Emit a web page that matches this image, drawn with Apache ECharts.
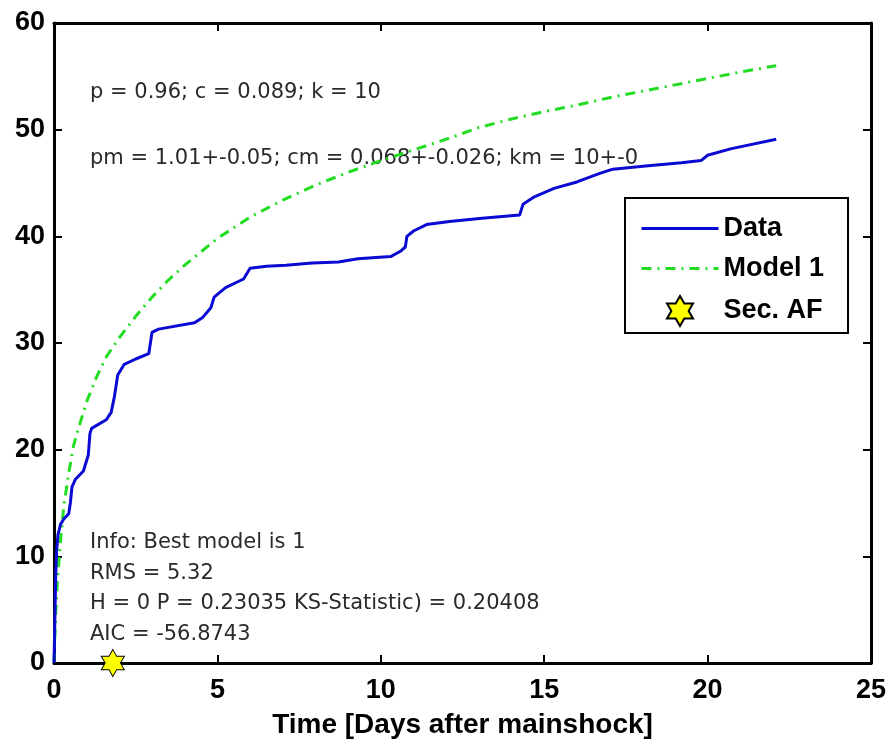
<!DOCTYPE html>
<html>
<head>
<meta charset="utf-8">
<script src="https://cdn.jsdelivr.net/npm/echarts@6/dist/echarts.min.js"></script>
<style>
html,body{margin:0;padding:0;background:#fff;}
#chart{width:890px;height:744px;}
</style>
</head>
<body>
<div id="chart"></div>
<script>
// Observed cumulative number (Data)
var dataT = [0, 0.02, 0.05, 0.08, 0.12, 0.2, 0.3, 0.45, 0.5, 0.55, 0.65, 0.9, 1.05, 1.1, 1.15, 1.6, 1.75, 1.85, 1.95, 2.15, 2.5, 2.9, 3.0, 3.2, 4.3, 4.55, 4.8, 4.9, 5.25, 5.8, 6.0, 6.5, 7.1, 7.9, 8.7, 9.3, 10.3, 10.6, 10.75, 10.8, 11.0, 11.4, 12.1, 13.1, 14.25, 14.35, 14.7, 15.3, 16.0, 16.7, 17.1, 18.1, 19.2, 19.8, 20.0, 20.7, 22.1];
var dataN = [0, 3, 8, 10.5, 12, 13, 13.5, 14, 15, 16.5, 17.2, 18, 19.5, 21.5, 22, 22.8, 23.5, 25, 27, 28, 28.5, 29, 31, 31.3, 31.9, 32.4, 33.3, 34.3, 35.2, 36, 37, 37.2, 37.3, 37.5, 37.6, 37.9, 38.1, 38.6, 39, 40, 40.5, 41.1, 41.4, 41.7, 42.0, 43, 43.7, 44.5, 45.1, 45.9, 46.3, 46.6, 46.9, 47.1, 47.6, 48.2, 49.1];
// Model 1 curve
var modelT = [0, 0.05, 0.1, 0.2, 0.3, 0.45, 0.6, 0.8, 1.0, 1.3, 1.6, 2.0, 2.5, 3.0, 3.5, 4.0, 5.0, 6.0, 7.0, 8.0, 9.0, 10.0, 11.0, 12.0, 13.0, 14.0, 15.0, 16.0, 17.0, 18.0, 19.0, 20.0, 21.0, 22.1];
var modelN = [0, 4.5, 7.5, 11.5, 14.7, 17.8, 20.4, 22.5, 24.5, 26.8, 28.7, 30.5, 32.5, 34.3, 35.9, 37.3, 39.8, 41.8, 43.4, 44.8, 46.0, 47.1, 48.1, 49.1, 50.2, 51.0, 51.7, 52.3, 53.0, 53.6, 54.2, 54.8, 55.4, 56.0];
// Secondary aftershock marker
var secT = [1.8];
var secN = [0];
var xTicks = [0, 5, 10, 15, 20, 25];
var yTicks = [0, 10, 20, 30, 40, 50, 60];
var seriesNames = ['Data', 'Model 1', 'Sec. AF'];
var textTop = ['p = 0.96; c = 0.089; k = 10', 'pm = 1.01+-0.05; cm = 0.068+-0.026; km = 10+-0'];
var textBottom = ['Info: Best model is 1', 'RMS = 5.32', 'H = 0 P = 0.23035 KS-Statistic) = 0.20408', 'AIC = -56.8743'];

function zip(a, b) { return a.map(function (v, i) { return [v, b[i]]; }); }

var hexagram = 'path://M0,-10 L2.887,-5 L8.660,-5 L5.774,0 L8.660,5 L2.887,5 L0,10 L-2.887,5 L-8.660,5 L-5.774,0 L-8.660,-5 L-2.887,-5 Z';

var axisFont = { fontFamily: 'Liberation Sans', fontWeight: 'bold', fontSize: 27, color: '#000' };
var frameLine = { show: true, onZero: false, lineStyle: { color: '#000', width: 3 } };
var innerTick = { show: true, inside: true, length: 8, lineStyle: { color: '#000', width: 2 } };

var graphics = [];
var annFont = '21px "DejaVu Sans"';
textTop.forEach(function (t, i) {
  graphics.push({ type: 'text', left: 90, top: 82 + i * 66, z: 1, style: { text: t, font: annFont, fill: '#2a2a2a' } });
});
textBottom.forEach(function (t, i) {
  graphics.push({ type: 'text', left: 90, top: 532 + i * 30.7, z: 1, style: { text: t, font: annFont, fill: '#2a2a2a' } });
});

var chart = echarts.init(document.getElementById('chart'), null, { renderer: 'canvas' });
chart.setOption({
  animation: false,
  backgroundColor: '#fff',
  grid: { left: 54, right: 19, top: 23, bottom: 77, containLabel: false },
  xAxis: [{
    type: 'value', min: xTicks[0], max: xTicks[xTicks.length - 1], interval: 5, position: 'bottom',
    axisLine: frameLine, axisTick: innerTick, splitLine: { show: false },
    axisLabel: Object.assign({ margin: 14 }, axisFont),
    name: 'Time [Days after mainshock]', nameLocation: 'middle', nameGap: 48,
    nameTextStyle: { fontFamily: 'Liberation Sans', fontWeight: 'bold', fontSize: 28, color: '#000' }
  }, {
    type: 'value', min: xTicks[0], max: xTicks[xTicks.length - 1], interval: 5, position: 'top',
    axisLine: frameLine, axisTick: innerTick, splitLine: { show: false }, axisLabel: { show: false }
  }],
  yAxis: [{
    type: 'value', min: yTicks[0], max: yTicks[yTicks.length - 1], interval: 10, position: 'left',
    axisLine: frameLine, axisTick: innerTick, splitLine: { show: false },
    axisLabel: Object.assign({ margin: 9 }, axisFont)
  }, {
    type: 'value', min: yTicks[0], max: yTicks[yTicks.length - 1], interval: 10, position: 'right',
    axisLine: frameLine, axisTick: innerTick, splitLine: { show: false }, axisLabel: { show: false }
  }],
  legend: {
    orient: 'vertical', left: 625, top: 198,
    data: [
      { name: seriesNames[0], itemStyle: { opacity: 0 } },
      { name: seriesNames[1], itemStyle: { opacity: 0 } },
      { name: seriesNames[2], icon: hexagram }
    ],
    itemWidth: 77, itemHeight: 30, itemGap: 13,
    padding: [17, 24, 6, 15],
    lineStyle: { width: 3 },
    backgroundColor: '#fff', borderColor: '#000', borderWidth: 2,
    textStyle: { fontFamily: 'Liberation Sans', fontWeight: 'bold', fontSize: 27, color: '#000' },
    z: 20
  },
  graphic: graphics,
  series: [{
    name: seriesNames[0], type: 'line', data: zip(dataT, dataN),
    symbol: 'none', showSymbol: false, smooth: false,
    lineStyle: { color: '#0a0ad2', width: 3 }, itemStyle: { color: '#0a0ad2' }, z: 5
  }, {
    name: seriesNames[1], type: 'line', data: zip(modelT, modelN),
    symbol: 'none', showSymbol: false, smooth: false,
    lineStyle: { color: '#22dd22', width: 3, type: [10, 6, 2, 6] }, itemStyle: { color: '#22dd22' }, z: 4
  }, {
    name: seriesNames[2], type: 'scatter', data: zip(secT, secN),
    symbol: hexagram, symbolSize: [23, 27], clip: false,
    itemStyle: { color: '#ffff00', borderColor: '#000', borderWidth: 1, opacity: 1 }, z: 10
  }]
});
</script>
</body>
</html>
